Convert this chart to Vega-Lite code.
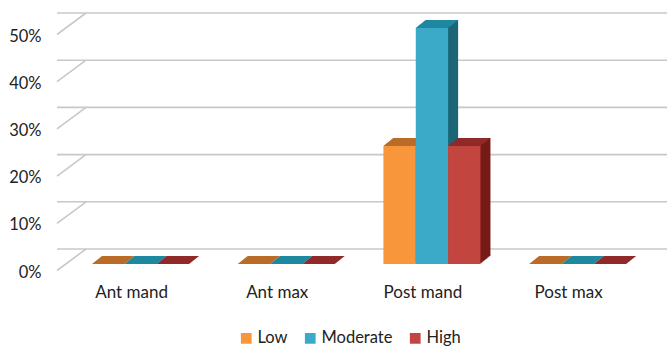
{
  "$schema": "https://vega.github.io/schema/vega-lite/v6.json",
  "autosize": "none",
  "width": 588,
  "height": 236,
  "padding": {"left": 57, "top": 28, "right": 22, "bottom": 83},
  "background": "white",
  "config": {
    "view": {"stroke": null},
    "font": "Lato",
    "axis": {"labelFont": "Lato", "labelColor": "#222222", "domain": false, "ticks": false, "grid": false}
  },
  "datasets": {
    "grid": [{"value": 0}, {"value": 0.1}, {"value": 0.2}, {"value": 0.3}, {"value": 0.4}, {"value": 0.5}],
    "bars": [
      {"cat": "Ant mand", "level": "Low", "value": 0},
      {"cat": "Ant mand", "level": "Moderate", "value": 0},
      {"cat": "Ant mand", "level": "High", "value": 0},
      {"cat": "Ant max", "level": "Low", "value": 0},
      {"cat": "Ant max", "level": "Moderate", "value": 0},
      {"cat": "Ant max", "level": "High", "value": 0},
      {"cat": "Post mand", "level": "Low", "value": 0.25},
      {"cat": "Post mand", "level": "Moderate", "value": 0.5},
      {"cat": "Post mand", "level": "High", "value": 0.25},
      {"cat": "Post max", "level": "Low", "value": 0},
      {"cat": "Post max", "level": "Moderate", "value": 0},
      {"cat": "Post max", "level": "High", "value": 0}
    ]
  },
  "layer": [
    {
      "data": {"name": "grid"},
      "mark": {"type": "rule", "color": "#c8c8c8", "strokeWidth": 1.6, "xOffset": 29, "yOffset": -15},
      "encoding": {
        "y": {"field": "value", "type": "quantitative", "scale": {"domain": [0, 0.5], "nice": false, "zero": true},
              "axis": {"title": null, "values": [0, 0.1, 0.2, 0.3, 0.4, 0.5], "format": ".0%", "labelFontSize": 16.5, "labelPadding": 16, "labelOffset": 8}}
      }
    },
    {
      "data": {"name": "grid"},
      "mark": {"type": "rule", "color": "#c8c8c8", "strokeWidth": 1.6, "yOffset": 6.5, "y2Offset": -15, "x2Offset": 29},
      "encoding": {
        "x": {"value": 0},
        "x2": {"value": 0},
        "y": {"field": "value", "type": "quantitative", "scale": {"domain": [0, 0.5], "nice": false, "zero": true},
              "axis": {"title": null, "values": [0, 0.1, 0.2, 0.3, 0.4, 0.5], "format": ".0%", "labelFontSize": 16.5, "labelPadding": 16, "labelOffset": 8}},
        "y2": {"field": "value"}
      }
    },
    {
      "data": {"name": "bars"},
      "encoding": {
        "x": {"field": "cat", "type": "nominal", "sort": ["Ant mand", "Ant max", "Post mand", "Post max"],
              "scale": {"paddingInner": 0.334, "paddingOuter": 0.185, "align": 0.65},
              "axis": {"title": null, "labelAngle": 0, "labelFontSize": 17, "labelPadding": 20, "labelOffset": -9}},
        "y": {"field": "value", "type": "quantitative", "scale": {"domain": [0, 0.5], "nice": false, "zero": true},
              "axis": {"title": null, "values": [0, 0.1, 0.2, 0.3, 0.4, 0.5], "format": ".0%", "labelFontSize": 16.5, "labelPadding": 16, "labelOffset": 8}}
      },
      "resolve": {"scale": {"color": "independent", "xOffset": "independent"}},
      "layer": [
        {"mark": {"type": "bar", "yOffset": -8, "y2Offset": -8}, "encoding": {"xOffset": {"field": "level", "type": "nominal", "sort": ["Low", "Moderate", "High"], "scale": {"range": [10, 107.03], "paddingInner": 0, "paddingOuter": 0}}, "color": {"field": "level", "type": "nominal", "scale": {"domain": ["Low", "Moderate", "High"], "range": ["#a35a1e", "#1b6677", "#761b17"]}, "legend": null}}},
        {"mark": {"type": "bar", "yOffset": -7.2, "y2Offset": -7.2}, "encoding": {"xOffset": {"field": "level", "type": "nominal", "sort": ["Low", "Moderate", "High"], "scale": {"range": [9, 106.03], "paddingInner": 0, "paddingOuter": 0}}, "color": {"field": "level", "type": "nominal", "scale": {"domain": ["Low", "Moderate", "High"], "range": ["#a35a1e", "#1b6677", "#761b17"]}, "legend": null}}},
        {"mark": {"type": "bar", "yOffset": -6.4, "y2Offset": -6.4}, "encoding": {"xOffset": {"field": "level", "type": "nominal", "sort": ["Low", "Moderate", "High"], "scale": {"range": [8, 105.03], "paddingInner": 0, "paddingOuter": 0}}, "color": {"field": "level", "type": "nominal", "scale": {"domain": ["Low", "Moderate", "High"], "range": ["#a35a1e", "#1b6677", "#761b17"]}, "legend": null}}},
        {"mark": {"type": "bar", "yOffset": -5.6, "y2Offset": -5.6}, "encoding": {"xOffset": {"field": "level", "type": "nominal", "sort": ["Low", "Moderate", "High"], "scale": {"range": [7, 104.03], "paddingInner": 0, "paddingOuter": 0}}, "color": {"field": "level", "type": "nominal", "scale": {"domain": ["Low", "Moderate", "High"], "range": ["#a35a1e", "#1b6677", "#761b17"]}, "legend": null}}},
        {"mark": {"type": "bar", "yOffset": -4.8, "y2Offset": -4.8}, "encoding": {"xOffset": {"field": "level", "type": "nominal", "sort": ["Low", "Moderate", "High"], "scale": {"range": [6, 103.03], "paddingInner": 0, "paddingOuter": 0}}, "color": {"field": "level", "type": "nominal", "scale": {"domain": ["Low", "Moderate", "High"], "range": ["#a35a1e", "#1b6677", "#761b17"]}, "legend": null}}},
        {"mark": {"type": "bar", "yOffset": -4, "y2Offset": -4}, "encoding": {"xOffset": {"field": "level", "type": "nominal", "sort": ["Low", "Moderate", "High"], "scale": {"range": [5, 102.03], "paddingInner": 0, "paddingOuter": 0}}, "color": {"field": "level", "type": "nominal", "scale": {"domain": ["Low", "Moderate", "High"], "range": ["#a35a1e", "#1b6677", "#761b17"]}, "legend": null}}},
        {"mark": {"type": "bar", "yOffset": -3.2, "y2Offset": -3.2}, "encoding": {"xOffset": {"field": "level", "type": "nominal", "sort": ["Low", "Moderate", "High"], "scale": {"range": [4, 101.03], "paddingInner": 0, "paddingOuter": 0}}, "color": {"field": "level", "type": "nominal", "scale": {"domain": ["Low", "Moderate", "High"], "range": ["#a35a1e", "#1b6677", "#761b17"]}, "legend": null}}},
        {"mark": {"type": "bar", "yOffset": -2.4, "y2Offset": -2.4}, "encoding": {"xOffset": {"field": "level", "type": "nominal", "sort": ["Low", "Moderate", "High"], "scale": {"range": [3, 100.03], "paddingInner": 0, "paddingOuter": 0}}, "color": {"field": "level", "type": "nominal", "scale": {"domain": ["Low", "Moderate", "High"], "range": ["#a35a1e", "#1b6677", "#761b17"]}, "legend": null}}},
        {"mark": {"type": "bar", "yOffset": -1.6, "y2Offset": -1.6}, "encoding": {"xOffset": {"field": "level", "type": "nominal", "sort": ["Low", "Moderate", "High"], "scale": {"range": [2, 99.03], "paddingInner": 0, "paddingOuter": 0}}, "color": {"field": "level", "type": "nominal", "scale": {"domain": ["Low", "Moderate", "High"], "range": ["#a35a1e", "#1b6677", "#761b17"]}, "legend": null}}},
        {"mark": {"type": "bar", "yOffset": -0.8, "y2Offset": -0.8}, "encoding": {"xOffset": {"field": "level", "type": "nominal", "sort": ["Low", "Moderate", "High"], "scale": {"range": [1, 98.03], "paddingInner": 0, "paddingOuter": 0}}, "color": {"field": "level", "type": "nominal", "scale": {"domain": ["Low", "Moderate", "High"], "range": ["#a35a1e", "#1b6677", "#761b17"]}, "legend": null}}},
        {
          "mark": {"type": "point", "shape": "M-0.809,0L0.809,0L1.309,-0.4L-0.309,-0.4Z", "size": 1600, "filled": true, "opacity": 1, "strokeWidth": 0},
          "encoding": {"xOffset": {"field": "level", "type": "nominal", "sort": ["Low", "Moderate", "High"], "scale": {"type": "band", "range": [0, 97.03], "paddingInner": 0, "paddingOuter": 0}}, "color": {"field": "level", "type": "nominal", "scale": {"domain": ["Low", "Moderate", "High"], "range": ["#bb6b28", "#1f88a1", "#8f2a28"]}, "legend": null}}
        },
        {
          "mark": {"type": "bar"},
          "encoding": {"xOffset": {"field": "level", "type": "nominal", "sort": ["Low", "Moderate", "High"], "scale": {"range": [0, 97.03], "paddingInner": 0, "paddingOuter": 0}}, "color": {"field": "level", "type": "nominal", "scale": {"domain": ["Low", "Moderate", "High"], "range": ["#f7963b", "#3baac8", "#c2463f"]},
            "legend": {"title": null, "orient": "none", "legendX": 181, "legendY": 302, "direction": "horizontal", "symbolType": "square", "symbolSize": 115, "labelFont": "Lato", "labelFontSize": 16.5, "labelColor": "#222222", "columnPadding": 14, "labelOffset": 3, "padding": 0}}}
        }
      ]
    }
  ]
}
